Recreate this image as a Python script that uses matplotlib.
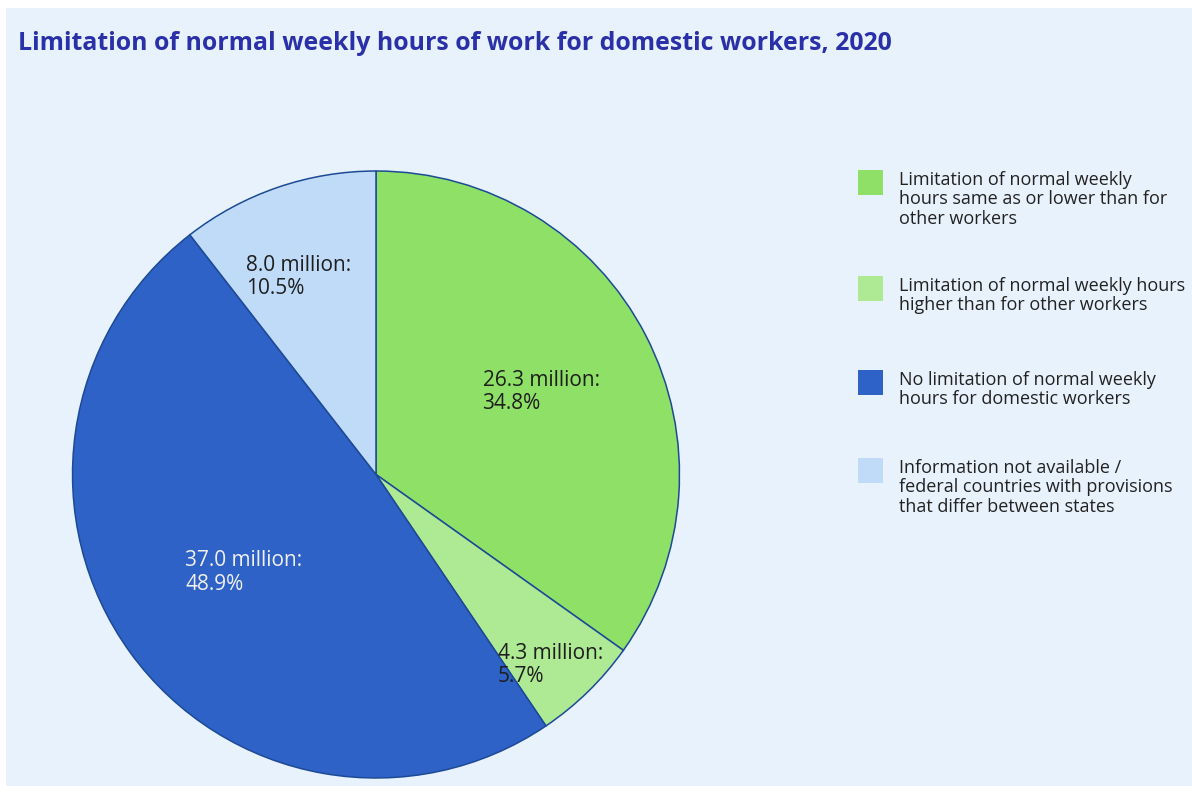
"""
Pie chart: limitation of normal weekly hours for domestic workers, 2020
"""

import numpy as np
import matplotlib as mpl
import matplotlib.pyplot as plt
from matplotlib.patches import Rectangle

mpl.rcParams.update({
    'font.family': ['Open Sans', 'DejaVu Sans'],
    'figure.dpi': 100,
    'savefig.dpi': 100,
})

TITLE = "Limitation of normal weekly hours of work for domestic workers, 2020"

categories = [
    "Limitation of normal weekly\nhours same as or lower than for\nother workers",
    "Limitation of normal weekly hours\nhigher than for other workers",
    "No limitation of normal weekly\nhours for domestic workers",
    "Information not available /\nfederal countries with provisions\nthat differ between states",
]
workers_million = [26.3, 4.3, 37.0, 8.0]
shares_pct = [34.8, 5.7, 48.9, 10.5]

COLORS = ['#8EE066', '#AEE993', '#2F62C6', '#BFDBF8']
TEXT_COLORS = ['#1E1E1E', '#1E1E1E', '#F0F0F0', '#1E1E1E']
LABEL_RADIUS = [0.62, 0.86, 0.53, 0.70]
EDGE = '#1D4A96'
PANEL = '#E8F2FC'

W, H = 1192, 787
fig = plt.figure(figsize=(W / 100, H / 100))
fig.patch.set_facecolor('white')

# light panel behind everything
fig.add_artist(Rectangle((6 / W, 1 - 786 / H), (W - 6) / W, (786 - 8) / H,
                         transform=fig.transFigure, facecolor=PANEL,
                         edgecolor='none', zorder=0))

fig.text(18 / W, 1 - 44 / H, TITLE, fontsize=17.9, fontweight='bold',
         color='#2A30A8', va='center', ha='left')

# pie axes: centre (376, 474) px, radius 305 px
cx, cy, r = 376, 474.5, 305
ax = fig.add_axes([(cx - r) / W, (H - cy - r) / H, 2 * r / W, 2 * r / H])
ax.set_facecolor('none')
wedges, _ = ax.pie(shares_pct, colors=COLORS, startangle=90, counterclock=False,
                   radius=1, wedgeprops=dict(edgecolor=EDGE, linewidth=1.1))
ax.set_xlim(-1.005, 1.005)
ax.set_ylim(-1.005, 1.005)
ax.set_aspect('equal')
ax.axis('off')

for w, val, pct, tc, lr in zip(wedges, workers_million, shares_pct,
                               TEXT_COLORS, LABEL_RADIUS):
    mid = np.deg2rad((w.theta1 + w.theta2) / 2)
    x, y = lr * np.cos(mid), lr * np.sin(mid)
    ax.text(x - 0.2, y - 0.012, f"{val:.1f} million:\n{pct:.1f}%", ha='left',
            va='center', fontsize=15, color=tc, linespacing=1.15)

# legend drawn by hand so the swatch sits at the first text line
legend_tops = [170, 276, 370, 458]
for lab, col, top in zip(categories, COLORS, legend_tops):
    fig.add_artist(Rectangle((858 / W, 1 - (top + 25) / H), 25 / W, 25 / H,
                             transform=fig.transFigure, facecolor=col,
                             edgecolor='none'))
    fig.text(899 / W, 1 - (top + 1) / H, lab, fontsize=13, color='#222222',
             va='top', ha='left', linespacing=1.1)

fig.savefig('out.png', facecolor='white')
